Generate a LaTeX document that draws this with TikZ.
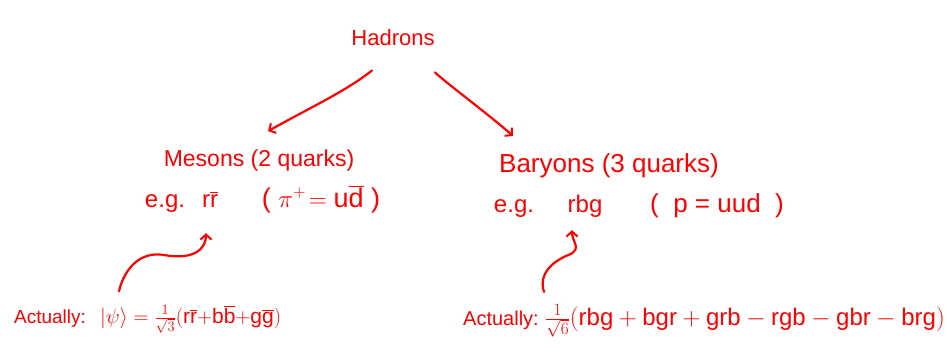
\documentclass[tikz,border=0pt]{standalone}
\usepackage{fontspec}
\setmainfont{Liberation Sans}
\usetikzlibrary{arrows.meta,calc}
\definecolor{ink}{RGB}{255,0,0}
\newcommand{\qb}[1]{\overline{\mathrm{#1}}}
\begin{document}
\begin{tikzpicture}[x=1pt,y=-1pt,
  lbl/.style={text=ink, inner sep=0pt, anchor=base, font=\fontsize{#1}{#1}\selectfont},
  conn/.style={draw=ink, line width=2.2pt, line cap=round, line join=round,
    -{Straight Barb[length=5pt,width=11pt,line width=2pt]}}]
\useasboundingbox (0,0) rectangle (947,360);
% texts
\node[lbl=22] (had) at (393,45) {Hadrons};
\node[lbl=23] (mes) at (259,166) {Mesons (2 quarks)};
\node[lbl=24] (meg) at (165,207) {e.g.};
\node[lbl=24] (mrr) at (210,207) {$\mathrm{r}\qb{r}$};
\node[lbl=27] (mpi) at (321,207) {(\;$\pi^{+}\!= \mathrm{u}\qb{d}$\;)};
\node[lbl=26] (bar) at (609,172) {Baryons (3 quarks)};
\node[lbl=24] (beg) at (514,212) {e.g.};
\node[lbl=24] (brbg) at (585,212) {rbg};
\node[lbl=26] (bp) at (717,212) {(\; p = uud\; )};
\node[lbl=19] (act1a) at (50,323) {Actually:};
\node[lbl=21, anchor=base west] (act1b) at (100,323) {$|\psi\rangle = \frac{1}{\sqrt{3}}(\mathrm{r}\qb{r}{+}\mathrm{b}\qb{b}{+}\mathrm{g}\qb{g})$};
\node[lbl=20] (act2a) at (501,325) {Actually:};
\node[lbl=24, anchor=base west] (act2b) at (545,325) {$\frac{1}{\sqrt{6}}(\mathrm{rbg+bgr+grb-rgb-gbr-brg})$};
% connectors
\draw[conn] ($(act1b.north west)+(19,-14)$) .. controls +(5,-22) and +(-25,-5) .. ($(mrr.south)+(-45,48)$)
   .. controls +(30,5) and +(0,15) .. ($(mrr.south)+(-4,26)$);
\draw[conn] ($(had.south)+(-21,25)$) .. controls +(-25,20) and +(45,-25) .. ($(mes.north)+(9,-18)$);
\draw[conn] ($(had.south)+(42,27)$) .. controls +(8,8) and +(-20,-18) .. ($(bar.north)+(-96,-17)$);
\draw[conn] ($(act2b.north west)+(-1,-12)$) .. controls +(-6,-18) and +(-15,6) .. ($(brbg.south)+(-17,38)$)
   .. controls +(15,-6) and +(0,12) .. ($(brbg.south)+(-13,13)$);
\end{tikzpicture}
\end{document}
